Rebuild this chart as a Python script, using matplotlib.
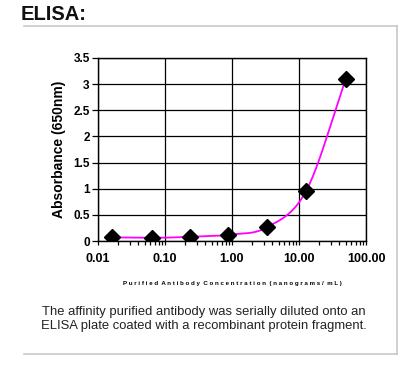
import numpy as np
import matplotlib
matplotlib.use("Agg")
import matplotlib.pyplot as plt
from matplotlib.lines import Line2D

concentration = [0.016, 0.063, 0.24, 0.88, 3.3, 12.8, 50.0]
absorbance = [0.07, 0.06, 0.08, 0.12, 0.26, 0.96, 3.1]
x_ticks = [0.01, 0.1, 1, 10, 100]
x_tick_labels = ["0.01", "0.10", "1.00", "10.00", "100.00"]
y_ticks = [0, 0.5, 1, 1.5, 2, 2.5, 3, 3.5]
y_tick_labels = ["0", "0.5", "1", "1.5", "2", "2.5", "3", "3.5"]

plt.rcParams['font.family'] = ['Liberation Sans', 'DejaVu Sans']

fig = plt.figure(figsize=(4.0, 3.76), dpi=100)

# outer frame lines
fig.add_artist(Line2D([24/400, 397/400], [1-25.5/376, 1-25.5/376], color='#c8c8c8', lw=1.2))
fig.add_artist(Line2D([397/400, 397/400], [1-25.5/376, 1-354/376], color='#c8c8c8', lw=1.2))
fig.add_artist(Line2D([24/400, 397/400], [1-354/376, 1-354/376], color='#c8c8c8', lw=1.2))

fig.text(21/400, 1-15/376, "ELISA:", fontsize=14.5, fontweight='bold', ha='left', va='center',
         color='#111111')

ax = fig.add_axes([98/400, 1-241/376, (366-98)/400, (241-58)/376])
ax.set_xscale('log')
ax.set_xlim(0.01, 100)
ax.set_ylim(0, 3.5)

# Catmull-Rom style smoothing in (log x, y) space
lx = np.log10(concentration)
yv = np.array(absorbance)
px = np.concatenate([[2*lx[0]-lx[1]], lx, [2*lx[-1]-lx[-2]]])
py = np.concatenate([[2*yv[0]-yv[1]], yv, [2*yv[-1]-yv[-2]]])
cx, cy = [], []
t = np.linspace(0, 1, 40)
for i in range(1, len(px)-2):
    p0x, p1x, p2x, p3x = px[i-1], px[i], px[i+1], px[i+2]
    p0y, p1y, p2y, p3y = py[i-1], py[i], py[i+1], py[i+2]
    b1x, b1y = p1x + (p2x-p0x)/6, p1y + (p2y-p0y)/6
    b2x, b2y = p2x - (p3x-p1x)/6, p2y - (p3y-p1y)/6
    bx = (1-t)**3*p1x + 3*(1-t)**2*t*b1x + 3*(1-t)*t**2*b2x + t**3*p2x
    by = (1-t)**3*p1y + 3*(1-t)**2*t*b1y + 3*(1-t)*t**2*b2y + t**3*p2y
    cx.extend(bx); cy.extend(by)
ax.plot(10**np.array(cx), cy, color='#ff00ff', lw=1.3, zorder=3)
ax.plot(concentration, absorbance, linestyle='none', marker='D', markersize=8,
        color='black', zorder=4)

ax.set_xticks(x_ticks)
ax.set_xticklabels(x_tick_labels, fontsize=9, fontweight='bold')
ax.set_yticks(y_ticks)
ax.set_yticklabels(y_tick_labels, fontsize=8.5, fontweight='bold')
ax.grid(True, which='major', color='black', lw=0.9)
ax.tick_params(axis='x', which='major', direction='out', length=3, width=0.9, pad=6)
ax.tick_params(axis='x', which='minor', direction='out', length=3, width=0.9)
ax.tick_params(axis='y', which='major', direction='out', length=4, width=0.9, pad=2)
for s in ax.spines.values():
    s.set_linewidth(1.0)
    s.set_color('black')

ax.set_ylabel("Absorbance (650nm)", fontsize=10, fontweight='bold', labelpad=5)
ax.set_xlabel("P u r i f i e d  A n t i b o d y  C o n c e n t r a t i o n  ( n a n o g r a m s /  m L )",
              fontsize=4.4, fontweight='bold', labelpad=11)

fig.text(204/400, 1-319/376,
         "The affinity purified antibody was serially diluted onto an\nELISA plate coated with a recombinant protein fragment.",
         fontsize=9.4, ha='center', va='center', color='#222222', linespacing=1.15)

fig.savefig("out.png", dpi=100)
